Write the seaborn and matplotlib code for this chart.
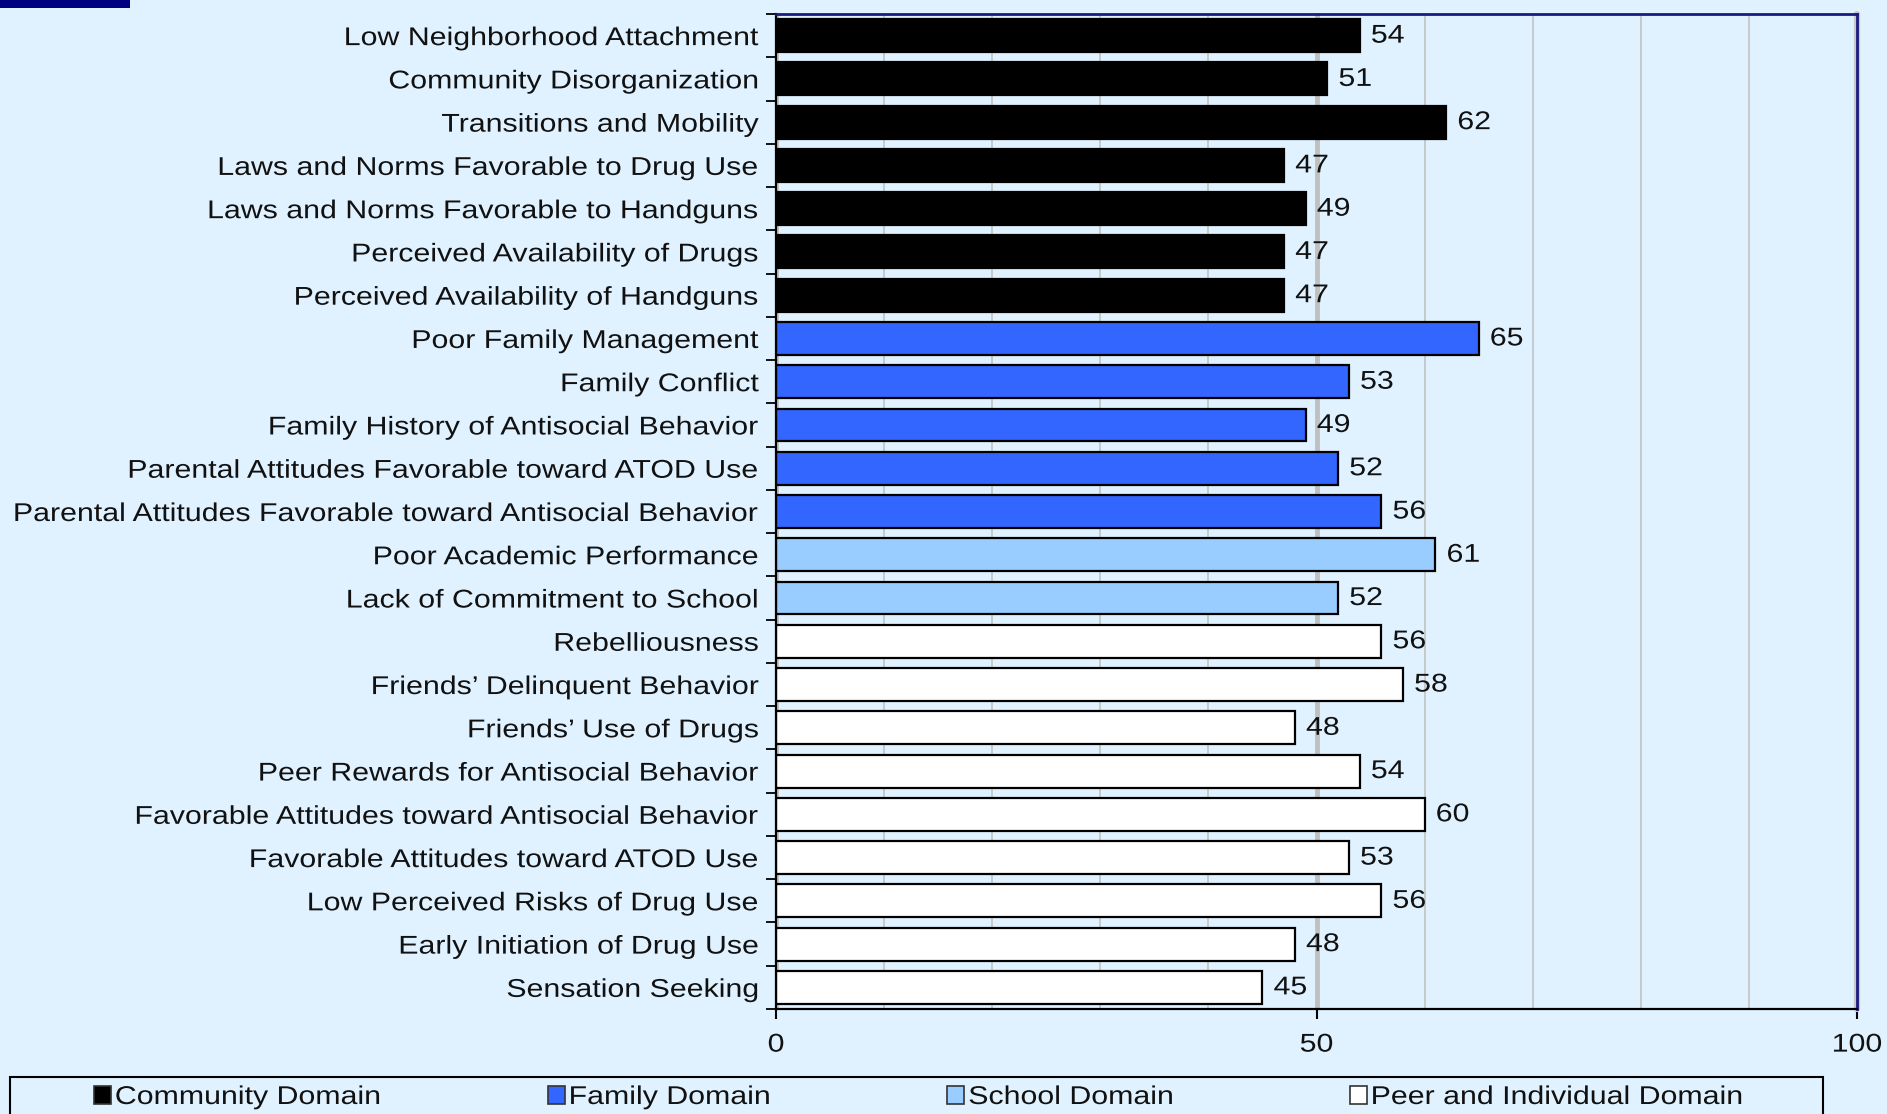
import numpy as np
import pandas as pd
import matplotlib
matplotlib.use("Agg")
import matplotlib.pyplot as plt
from matplotlib.patches import Rectangle
from matplotlib.patheffects import AbstractPathEffect
from matplotlib.transforms import Affine2D
import seaborn as sns

# ---- data ----
community_labels = ["Low Neighborhood Attachment", "Community Disorganization",
                    "Transitions and Mobility", "Laws and Norms Favorable to Drug Use",
                    "Laws and Norms Favorable to Handguns", "Perceived Availability of Drugs",
                    "Perceived Availability of Handguns"]
community_values = [54, 51, 62, 47, 49, 47, 47]

family_labels = ["Poor Family Management", "Family Conflict",
                 "Family History of Antisocial Behavior",
                 "Parental Attitudes Favorable toward ATOD Use",
                 "Parental Attitudes Favorable toward Antisocial Behavior"]
family_values = [65, 53, 49, 52, 56]

school_labels = ["Poor Academic Performance", "Lack of Commitment to School"]
school_values = [61, 52]

peer_labels = ["Rebelliousness", "Friends\u2019 Delinquent Behavior", "Friends\u2019 Use of Drugs",
               "Peer Rewards for Antisocial Behavior",
               "Favorable Attitudes toward Antisocial Behavior",
               "Favorable Attitudes toward ATOD Use", "Low Perceived Risks of Drug Use",
               "Early Initiation of Drug Use", "Sensation Seeking"]
peer_values = [56, 58, 48, 54, 60, 53, 56, 48, 45]

domain_names = ["Community Domain", "Family Domain", "School Domain",
                "Peer and Individual Domain"]
domain_colors = ["#000000", "#3366FF", "#99CCFF", "#FFFFFF"]
x_ticks = [0, 50, 100]

df = pd.DataFrame({
    "label": community_labels + family_labels + school_labels + peer_labels,
    "value": community_values + family_values + school_values + peer_values,
    "domain": ([domain_names[0]] * len(community_labels) + [domain_names[1]] * len(family_labels)
               + [domain_names[2]] * len(school_labels) + [domain_names[3]] * len(peer_labels)),
})


# horizontally stretched text (reference font is a widened Arial)
class HStretch(AbstractPathEffect):
    def __init__(self, sx, anchor="left"):
        super().__init__()
        self.sx = sx
        self.anchor = anchor

    def draw_path(self, renderer, gc, tpath, affine, rgbFace=None):
        v = tpath.vertices
        if len(v) == 0:
            renderer.draw_path(gc, tpath, affine, rgbFace)
            return
        if self.anchor == "right":
            x0 = v[:, 0].max()
        elif self.anchor == "center":
            x0 = 0.5 * (v[:, 0].min() + v[:, 0].max())
        else:
            x0 = 0.0
        t = Affine2D().translate(-x0, 0).scale(self.sx, 1).translate(x0, 0)
        renderer.draw_path(gc, tpath, t + affine, rgbFace)


SX = 1.18

# ---- style ----
bg = "#E0F2FF"
sns.set_theme(style="white")
plt.rcParams["font.family"] = ["Liberation Sans", "DejaVu Sans"]
plt.rcParams["figure.facecolor"] = bg
plt.rcParams["axes.facecolor"] = bg
FS = 18.5
TXT = "#111111"

W, H = 1887, 1114
fig = plt.figure(figsize=(W / 100, H / 100), dpi=100)
ax = fig.add_axes([776 / W, 1 - 1009 / H, (1857 - 776) / W, (1009 - 14) / H])

sns.barplot(data=df, x="value", y="label", hue="domain", hue_order=domain_names,
            palette=dict(zip(domain_names, domain_colors)), dodge=False, width=0.76,
            edgecolor="black", linewidth=1.6, orient="h", ax=ax, saturation=1)

handles, labels = ax.get_legend_handles_labels()
if ax.get_legend() is not None:
    ax.get_legend().remove()

for cont in ax.containers:
    for t in ax.bar_label(cont, padding=8, fontsize=FS, color=TXT):
        t.set_path_effects([HStretch(SX, "left")])

n = len(df)
ax.set_ylim(n - 0.5, -0.5)
ax.set_xlim(0, 100)
ax.set_xlabel("")
ax.set_ylabel("")
ax.set_xticks(x_ticks)
ax.set_xticklabels([str(t) for t in x_ticks], fontsize=FS, color=TXT)
ax.set_xticks(np.arange(10, 100, 10), minor=True)
ax.set_yticks(np.arange(-0.5, n, 1), minor=True)
ax.tick_params(axis="y", which="major", length=0, labelsize=FS, labelcolor=TXT, pad=12)
ax.tick_params(axis="y", which="minor", length=7, width=1.3, color="black", direction="out", left=True)
ax.tick_params(axis="x", which="major", length=7, width=1.5, color="black", direction="out",
               bottom=True, pad=10)
ax.tick_params(axis="x", which="minor", length=0)
for t in ax.get_yticklabels():
    t.set_path_effects([HStretch(SX, "right")])
for t in ax.get_xticklabels():
    t.set_path_effects([HStretch(SX, "center")])

ax.set_axisbelow(True)
ax.xaxis.grid(True, which="minor", color="#BEBEBE", linewidth=1.1)
ax.xaxis.grid(True, which="major", color="#C0C0C0", linewidth=3.5)
# gray shadow line under the right (navy) spine, as in the reference
ax.axvline(100, color="#C8C8C8", linewidth=4.5, clip_on=False, zorder=2.4)

for s in ["left", "bottom"]:
    ax.spines[s].set_color("black")
    ax.spines[s].set_linewidth(1.6)
for s in ["top", "right"]:
    ax.spines[s].set_color("#1A1A80")
    ax.spines[s].set_linewidth(2)

# top-left navy block
fig.add_artist(Rectangle((0, 1 - 8 / H), 130 / W, 8 / H, transform=fig.transFigure,
                         color="#000080", lw=0))

# legend frame (runs off the bottom edge like the reference)
fig.add_artist(Rectangle((10 / W, -20 / H), (1823 - 10) / W, (1114 - 1077 + 20) / H,
                         transform=fig.transFigure, facecolor=bg, edgecolor="black", lw=1.5))

leg = fig.legend(handles, labels, loc="center left", ncol=4,
                 bbox_to_anchor=(94 / W, 1 - 1097 / H), bbox_transform=fig.transFigure,
                 fontsize=FS, frameon=False, handlelength=0.66, handleheight=0.66,
                 handletextpad=0.15, columnspacing=8.05, borderpad=0, borderaxespad=0)
for h in leg.legend_handles:
    h.set_edgecolor("#333333")
    h.set_linewidth(1.2)
for t in leg.get_texts():
    t.set_color(TXT)
    t.set_path_effects([HStretch(SX, "left")])

fig.savefig("out.png", dpi=100, facecolor=bg)
